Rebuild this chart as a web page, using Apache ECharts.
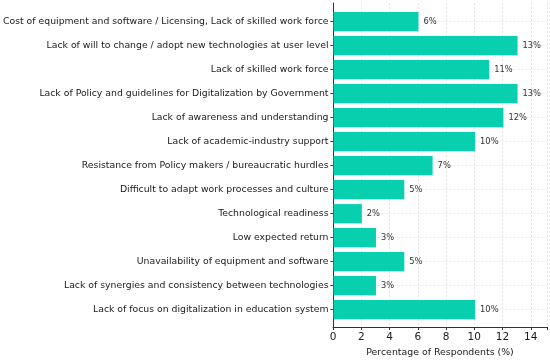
<!DOCTYPE html>
<html>
<head>
<meta charset="utf-8">
<style>html,body{margin:0;padding:0;background:#fff}#c{width:550px;height:362px}</style>
<script src="https://cdn.jsdelivr.net/npm/echarts@6/dist/echarts.min.js"></script>
</head>
<body>
<div id="c"></div>
<script>
const categories = [
  "Cost of equipment and software / Licensing, Lack of skilled work force",
  "Lack of will to change / adopt new technologies at user level",
  "Lack of skilled work force",
  "Lack of Policy and guidelines for Digitalization by Government",
  "Lack of awareness and understanding",
  "Lack of academic-industry support",
  "Resistance from Policy makers / bureaucratic hurdles",
  "Difficult to adapt work processes and culture",
  "Technological readiness",
  "Low expected return",
  "Unavailability of equipment and software",
  "Lack of synergies and consistency between technologies",
  "Lack of focus on digitalization in education system"
];
const values = [6, 13, 11, 13, 12, 10, 7, 5, 2, 3, 5, 3, 10];
const xTicks = [0, 2, 4, 6, 8, 10, 12, 14];
const xName = "Percentage of Respondents (%)";

const font = "DejaVu Sans";
const chart = echarts.init(document.getElementById('c'), null, {renderer: 'canvas'});
const XMAX = 15.15;
chart.setOption({
  animation: false,
  backgroundColor: '#fff',
  grid: [
    {left: 333, right: 2, top: 3, bottom: 29},
    {left: 333, right: 2, top: 9.7, bottom: 40.3}
  ],
  xAxis: [
    {
      gridIndex: 0, type: 'value', min: 0, max: XMAX, interval: 2,
      name: xName, nameLocation: 'middle', nameGap: 21,
      nameTextStyle: {fontFamily: font, fontSize: 9.4, color: '#1a1a1a'},
      axisLine: {show: true, lineStyle: {color: '#333', width: 1}},
      axisTick: {show: true, length: 3, lineStyle: {color: '#333'}},
      axisLabel: {fontFamily: font, fontSize: 10.5, color: '#1a1a1a', margin: 5,
        formatter: v => xTicks.includes(v) ? String(v) : ''},
      splitLine: {show: true, lineStyle: {color: '#ddd', type: [2, 2], width: 0.8}}
    },
    {
      gridIndex: 1, type: 'value', min: 0, max: XMAX, show: false
    }
  ],
  yAxis: [
    {
      gridIndex: 0, type: 'value', min: 0, max: 1,
      axisLine: {show: true, onZero: false, lineStyle: {color: '#333', width: 1}},
      axisTick: {show: false}, axisLabel: {show: false}, splitLine: {show: false}
    },
    {
      gridIndex: 1, type: 'category', inverse: true, data: categories,
      axisLine: {show: false},
      axisTick: {show: true, alignWithLabel: true, length: 3, lineStyle: {color: '#333'}},
      axisLabel: {fontFamily: font, fontSize: 9.3, color: '#1a1a1a', margin: 5},
      splitLine: {show: true, alignWithLabel: true, lineStyle: {color: '#e2e2e2', type: [2, 2], width: 0.8}}
    }
  ],
  series: [{
    type: 'bar',
    xAxisIndex: 1, yAxisIndex: 1,
    data: values,
    barWidth: '80%',
    itemStyle: {color: '#08cfae'},
    label: {show: true, position: 'right', distance: 5, formatter: '{c}%',
      fontFamily: font, fontSize: 8.3, color: '#333'}
  }]
});
</script>
</body>
</html>
